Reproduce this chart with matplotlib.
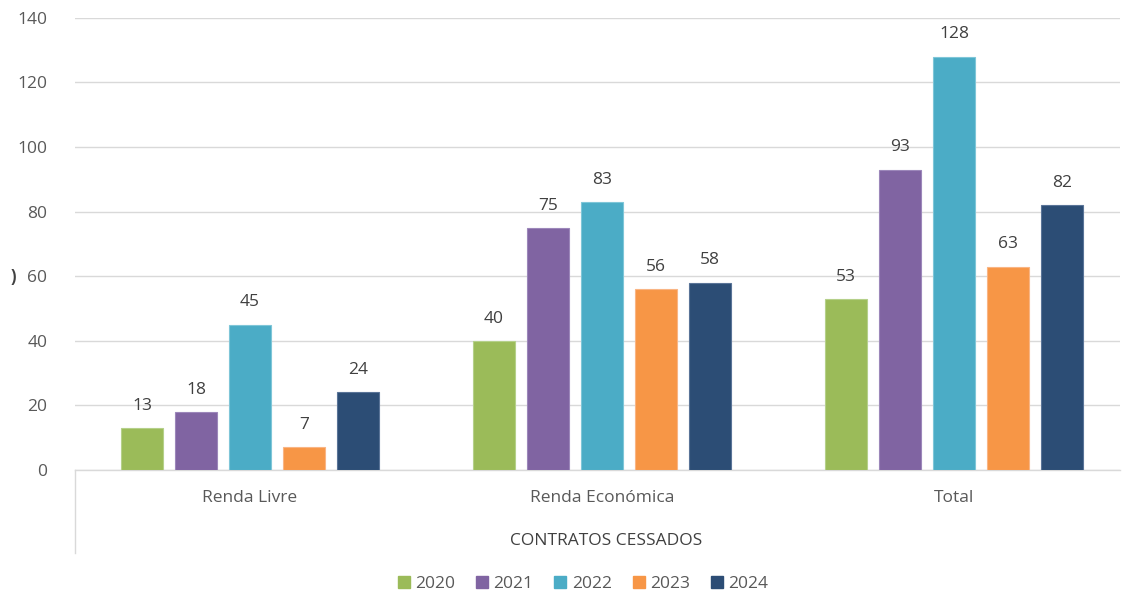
import matplotlib
matplotlib.use("Agg")
import matplotlib.pyplot as plt
import numpy as np
from matplotlib.patches import Patch
from matplotlib.lines import Line2D

categories = ["Renda Livre", "Renda Económica", "Total"]
years = ["2020", "2021", "2022", "2023", "2024"]
values = {
    "2020": [13, 40, 53],
    "2021": [18, 75, 93],
    "2022": [45, 83, 128],
    "2023": [7, 56, 63],
    "2024": [24, 58, 82],
}
colors = ["#9BBB59", "#8064A2", "#4BACC6", "#F79646", "#2C4D75"]
edges = ["#B5D08A", "#9C87BA", "#7FC6D8", "#F9B584", "#5A7498"]

plt.rcParams['font.family'] = ['Open Sans', 'DejaVu Sans']
fig = plt.figure(figsize=(11.26, 5.96), dpi=100)
ax = fig.add_axes([0.0666, 0.2114, 0.9284, 0.7586])

x = np.arange(len(categories))
width = 0.119
step = 0.1534
for i, y in enumerate(years):
    pos = x + (i - 2) * step
    bars = ax.bar(pos, values[y], width, color=colors[i], edgecolor=edges[i], linewidth=0.8, zorder=3, label=y)
    for b, v in zip(bars, values[y]):
        ax.text(b.get_x() + b.get_width() / 2, v + 6.9, str(v), ha='center', va='center',
                fontsize=12.5, color='#404040')

ax.set_xlim(-0.497, 2.472)
ax.set_ylim(0, 140)
ax.set_yticks(np.arange(0, 141, 20))
ax.tick_params(axis='y', length=0, labelsize=12.5, labelcolor='#595959', pad=20)
ax.set_xticks([])
ax.grid(axis='y', color='#D9D9D9', linewidth=1, zorder=0)
for s in ['top', 'right', 'left']:
    ax.spines[s].set_visible(False)
ax.spines['bottom'].set_color('#D9D9D9')
ax.spines['bottom'].set_linewidth(1)

for xi, c in zip(x, categories):
    ax.text(xi, -0.062, c, transform=ax.get_xaxis_transform(), ha='center', va='center',
            fontsize=12.5, color='#595959')
ax.text(606 / 352 - 250 / 352, -0.157, "CONTRATOS CESSADOS", transform=ax.get_xaxis_transform(),
        ha='center', va='center', fontsize=12.5, color='#404040')

# vertical category axis extension line
fig.add_artist(Line2D([0.0666, 0.0666], [0.2114, (596 - 553) / 596], color='#D9D9D9', linewidth=1))

fig.text(13 / 1126, 1 - 277 / 596, ")", ha='center', va='center', fontsize=12, color='#404040',
         fontweight='bold')

handles = [Patch(facecolor=colors[i], edgecolor=colors[i], label=y) for i, y in enumerate(years)]
fig.legend(handles=handles, loc='center', bbox_to_anchor=(583 / 1126, 1 - 584 / 596), ncol=5,
           frameon=False, fontsize=12.5, handlelength=0.7, handleheight=0.7, handletextpad=0.3,
           columnspacing=1.2, labelcolor='#595959')

fig.savefig("out.png", dpi=100)
